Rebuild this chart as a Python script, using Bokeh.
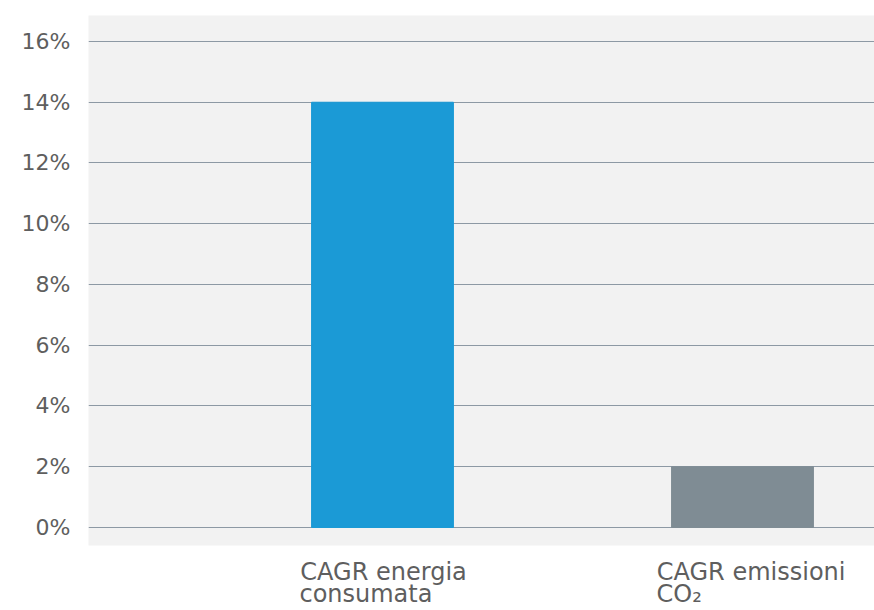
from bokeh.plotting import figure
from bokeh.models import Range1d, FixedTicker, LinearAxis
from bokeh.embed import file_html
from bokeh.resources import INLINE

# ---- data ----
categories = ["CAGR energia\nconsumata", "CAGR emissioni\nCO₂"]
values = [14, 2]
bar_colors = ["#1b9ad6", "#7f8c94"]
tick_values = [0, 2, 4, 6, 8, 10, 12, 14, 16]
tick_labels = ["0%", "2%", "4%", "6%", "8%", "10%", "12%", "14%", "16%"]

xpos = [1, 2]
# horizontal shift of each label line so the two lines look left-aligned
line_shift = [[0.003, -0.046], [0.024, -0.176]]
FONT = "DejaVu Sans"
TXT = "#5e5e5e"

p = figure(width=874, height=610, output_backend="svg", toolbar_location=None,
           x_range=Range1d(0.1833, 2.3667), y_range=Range1d(-0.593, 16.856),
           min_border_left=88, min_border_right=0, min_border_top=15, min_border_bottom=65,
           x_axis_location=None)
p.background_fill_color = "#f2f2f2"
p.border_fill_color = "white"
p.outline_line_color = None

p.vbar(x=xpos, top=values, bottom=0, width=0.394, color=bar_colors)

p.xgrid.visible = False
p.ygrid.ticker = FixedTicker(ticks=tick_values)
p.ygrid.grid_line_color = "#8d99a4"
p.ygrid.grid_line_width = 1.2

ya = p.yaxis[0]
ya.ticker = FixedTicker(ticks=tick_values)
ya.major_label_overrides = {v: t for v, t in zip(tick_values, tick_labels)}
ya.axis_line_color = None
ya.major_tick_line_color = None
ya.minor_tick_line_color = None
ya.major_tick_out = 0
ya.major_tick_in = 0
ya.major_label_text_font = FONT
ya.major_label_text_font_size = "22px"
ya.major_label_text_color = TXT
ya.major_label_standoff = 18

for i in range(2):
    ticks = [x + line_shift[k][i] for k, x in enumerate(xpos)]
    lines = [c.split("\n")[i] for c in categories]
    ax = LinearAxis(ticker=FixedTicker(ticks=ticks),
                    major_label_overrides={t: l for t, l in zip(ticks, lines)})
    ax.axis_line_color = None
    ax.major_tick_line_color = None
    ax.minor_tick_line_color = None
    ax.major_tick_out = 0
    ax.major_tick_in = 0
    ax.major_label_text_font = FONT
    ax.major_label_text_font_size = "24px"
    ax.major_label_text_color = TXT
    ax.major_label_standoff = 12 if i == 0 else -9
    p.add_layout(ax, "below")

open("out.html", "w").write(file_html(p, INLINE))
